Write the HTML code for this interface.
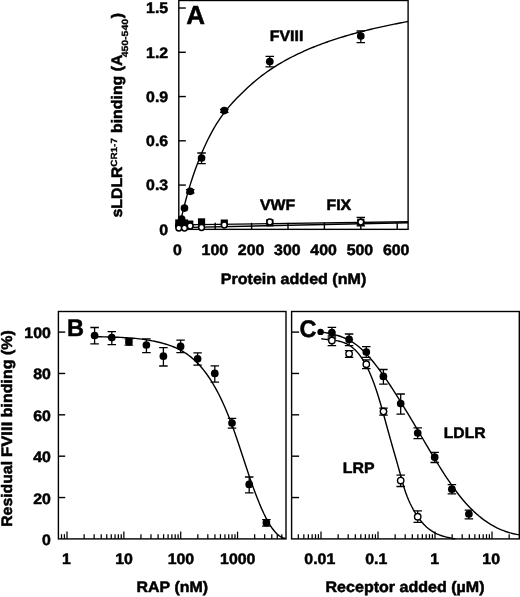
<!DOCTYPE html>
<html lang="en">
<head>
<meta charset="utf-8">
<title>Figure</title>
<style>
html,body{margin:0;padding:0;background:#fff;}
body{width:520px;height:597px;overflow:hidden;}
svg{display:block;}
svg text{text-rendering:geometricPrecision;font-family:"Liberation Sans",sans-serif;font-weight:bold;fill:#000;stroke:#000;stroke-width:0.5px;stroke-linejoin:round;}
</style>
</head>
<body>
<svg width="520" height="597" viewBox="0 0 520 597" stroke="#000" stroke-linecap="butt">
<rect x="0" y="0" width="520" height="597" fill="#fff" stroke="none"/>
<!-- Panel A -->
<rect x="178.8" y="0.5" width="229.3" height="228.85" fill="none" stroke-width="1.4"/>
<text transform="translate(168.2 234.75) scale(1.045 1)" font-size="15.2" text-anchor="end">0</text>
<line x1="178.8" y1="185.08" x2="185.8" y2="185.08" stroke-width="1.4"/>
<text transform="translate(168.2 190.48) scale(1.045 1)" font-size="15.2" text-anchor="end">0.3</text>
<line x1="178.8" y1="140.82" x2="185.8" y2="140.82" stroke-width="1.4"/>
<text transform="translate(168.2 146.22) scale(1.045 1)" font-size="15.2" text-anchor="end">0.6</text>
<line x1="178.8" y1="96.55" x2="185.8" y2="96.55" stroke-width="1.4"/>
<text transform="translate(168.2 101.95) scale(1.045 1)" font-size="15.2" text-anchor="end">0.9</text>
<line x1="178.8" y1="52.29" x2="185.8" y2="52.29" stroke-width="1.4"/>
<text transform="translate(168.2 57.69) scale(1.045 1)" font-size="15.2" text-anchor="end">1.2</text>
<line x1="178.8" y1="8.02" x2="185.8" y2="8.02" stroke-width="1.4"/>
<text transform="translate(168.2 13.42) scale(1.045 1)" font-size="15.2" text-anchor="end">1.5</text>
<text transform="translate(177.5 255.1) scale(1.045 1)" font-size="15.2" text-anchor="middle">0</text>
<line x1="215.2" y1="229.35" x2="215.2" y2="222.85" stroke-width="1.4"/>
<text transform="translate(214.8 255.1) scale(1.045 1)" font-size="15.2" text-anchor="middle">100</text>
<line x1="251.6" y1="229.35" x2="251.6" y2="222.85" stroke-width="1.4"/>
<text transform="translate(251.1 255.1) scale(1.045 1)" font-size="15.2" text-anchor="middle">200</text>
<line x1="288" y1="229.35" x2="288" y2="222.85" stroke-width="1.4"/>
<text transform="translate(287.3 255.1) scale(1.045 1)" font-size="15.2" text-anchor="middle">300</text>
<line x1="324.4" y1="229.35" x2="324.4" y2="222.85" stroke-width="1.4"/>
<text transform="translate(323.6 255.1) scale(1.045 1)" font-size="15.2" text-anchor="middle">400</text>
<line x1="360.8" y1="229.35" x2="360.8" y2="222.85" stroke-width="1.4"/>
<text transform="translate(359.9 255.1) scale(1.045 1)" font-size="15.2" text-anchor="middle">500</text>
<line x1="397.2" y1="229.35" x2="397.2" y2="222.85" stroke-width="1.4"/>
<text transform="translate(396.2 255.1) scale(1.045 1)" font-size="15.2" text-anchor="middle">600</text>
<text transform="translate(293.5 283.7) scale(1.058 1)" font-size="15.2" text-anchor="middle">Protein added (nM)</text>
<text transform="translate(122.4 217.6) rotate(-90) scale(1.045 1)" font-size="15.2">sLDLR</text>
<text transform="translate(116.9 166.8) rotate(-90) scale(1.12 1)" font-size="8.9" style="stroke-width:0.3px">CR1-7</text>
<text transform="translate(122.4 133) rotate(-90) scale(1.045 1)" font-size="15.2">binding (A</text>
<text transform="translate(127.6 57.3) rotate(-90) scale(1.16 1)" font-size="9.0" style="stroke-width:0.3px">450-540</text>
<text transform="translate(122.4 18.2) rotate(-90) scale(1.045 1)" font-size="15.2">)</text>
<text transform="translate(186.2 24.3) scale(1.0 1)" font-size="26" text-anchor="start">A</text>
<path d="M178.8 229.35 L181.12 218.84 L183.43 209.15 L185.75 200.2 L188.07 191.89 L190.38 184.16 L192.7 176.96 L195.01 170.23 L197.33 163.92 L199.65 158 L201.96 152.44 L204.28 147.19 L206.6 142.24 L208.91 137.56 L211.23 133.13 L213.55 128.93 L215.86 124.99 L218.18 121.3 L220.49 117.84 L222.81 114.6 L225.13 111.54 L227.44 108.65 L229.76 105.91 L232.08 103.28 L234.39 100.77 L236.71 98.34 L239.03 95.99 L241.34 93.69 L243.66 91.43 L245.97 89.2 L248.29 87.02 L250.61 84.91 L252.92 82.88 L255.24 80.91 L257.56 79.02 L259.87 77.19 L262.19 75.41 L264.51 73.7 L266.82 72.04 L269.14 70.43 L271.45 68.87 L273.77 67.36 L276.09 65.9 L278.4 64.47 L280.72 63.09 L283.04 61.75 L285.35 60.45 L287.67 59.18 L289.99 57.95 L292.3 56.75 L294.62 55.58 L296.93 54.45 L299.25 53.34 L301.57 52.26 L303.88 51.21 L306.2 50.19 L308.52 49.19 L310.83 48.22 L313.15 47.26 L315.47 46.34 L317.78 45.43 L320.1 44.54 L322.41 43.68 L324.73 42.83 L327.05 42.01 L329.36 41.2 L331.68 40.41 L334 39.64 L336.31 38.88 L338.63 38.14 L340.95 37.42 L343.26 36.71 L345.58 36.02 L347.89 35.34 L350.21 34.67 L352.53 34.02 L354.84 33.38 L357.16 32.75 L359.48 32.13 L361.79 31.53 L364.11 30.94 L366.43 30.36 L368.74 29.79 L371.06 29.23 L373.37 28.68 L375.69 28.14 L378.01 27.61 L380.32 27.09 L382.64 26.58 L384.96 26.08 L387.27 25.59 L389.59 25.1 L391.91 24.62 L394.22 24.16 L396.54 23.7 L398.85 23.24 L401.17 22.8 L403.49 22.36 L405.8 21.93 L408.12 21.51" stroke-width="1.4" fill="none" stroke-linejoin="round"/>
<line x1="178.8" y1="224.92" x2="408.12" y2="221.82" stroke-width="1.4"/>
<line x1="178.8" y1="227.58" x2="408.12" y2="222.71" stroke-width="1.4"/>
<rect x="175.2" y="219.4" width="7.2" height="7.2" fill="#000" stroke="none"/>
<rect x="178.04" y="219.4" width="7.2" height="7.2" fill="#000" stroke="none"/>
<rect x="180.88" y="219.4" width="7.2" height="7.2" fill="#000" stroke="none"/>
<rect x="186.12" y="220.5" width="7.2" height="7.2" fill="#000" stroke="none"/>
<rect x="197.95" y="218.3" width="7.2" height="7.2" fill="#000" stroke="none"/>
<rect x="220.7" y="219.5" width="7.2" height="7.2" fill="#000" stroke="none"/>
<rect x="266.2" y="219.2" width="7.2" height="7.2" fill="#000" stroke="none"/>
<rect x="357.2" y="218.6" width="7.2" height="7.2" fill="#000" stroke="none"/>
<path d="M190.18 189.6V193M185.93 189.6H194.43M185.93 193H194.43" stroke-width="1.3" fill="none"/>
<path d="M201.55 153V163.6M197.3 153H205.8M197.3 163.6H205.8" stroke-width="1.3" fill="none"/>
<path d="M224.3 109.4V112.4M220.05 109.4H228.55M220.05 112.4H228.55" stroke-width="1.3" fill="none"/>
<path d="M269.8 56.4V66.8M265.55 56.4H274.05M265.55 66.8H274.05" stroke-width="1.3" fill="none"/>
<path d="M360.8 31V42.6M356.55 31H365.05M356.55 42.6H365.05" stroke-width="1.3" fill="none"/>
<circle cx="178.8" cy="225.5" r="3.85" fill="#000" stroke="none"/>
<circle cx="180.22" cy="223.5" r="3.85" fill="#000" stroke="none"/>
<circle cx="181.64" cy="219" r="3.85" fill="#000" stroke="none"/>
<circle cx="184.48" cy="208.1" r="3.85" fill="#000" stroke="none"/>
<circle cx="190.18" cy="191.3" r="3.85" fill="#000" stroke="none"/>
<circle cx="201.55" cy="158" r="3.85" fill="#000" stroke="none"/>
<circle cx="224.3" cy="110.6" r="3.85" fill="#000" stroke="none"/>
<circle cx="269.8" cy="61.6" r="3.85" fill="#000" stroke="none"/>
<circle cx="360.8" cy="36" r="3.85" fill="#000" stroke="none"/>
<path d="M360.8 217.3V225.9M356.55 217.3H365.05M356.55 225.9H365.05" stroke-width="1.3" fill="none"/>
<circle cx="178.8" cy="228.1" r="2.9" fill="#fff" stroke-width="1.5"/>
<circle cx="184.48" cy="228.1" r="2.9" fill="#fff" stroke-width="1.5"/>
<circle cx="190.18" cy="226" r="2.9" fill="#fff" stroke-width="1.5"/>
<circle cx="201.55" cy="227.5" r="2.9" fill="#fff" stroke-width="1.5"/>
<circle cx="224.3" cy="225" r="2.9" fill="#fff" stroke-width="1.5"/>
<circle cx="269.8" cy="222" r="2.9" fill="#fff" stroke-width="1.5"/>
<circle cx="360.8" cy="222.1" r="2.9" fill="#fff" stroke-width="1.5"/>
<text transform="translate(260 210.3) scale(1.045 1)" font-size="15.2" text-anchor="start">VWF</text>
<text transform="translate(326.5 210.3) scale(1.045 1)" font-size="15.2" text-anchor="start">FIX</text>
<text transform="translate(269.8 40.6) scale(1.045 1)" font-size="15.2" text-anchor="start">FVIII</text>
<!-- Panel B -->
<rect x="58.4" y="311.5" width="227.6" height="227.4" fill="none" stroke-width="1.4"/>
<text transform="translate(50.8 544.9) scale(1.045 1)" font-size="15.2" text-anchor="end">0</text>
<line x1="58.4" y1="497.54" x2="65.2" y2="497.54" stroke-width="1.4"/>
<text transform="translate(50.8 503.54) scale(1.045 1)" font-size="15.2" text-anchor="end">20</text>
<line x1="58.4" y1="456.18" x2="65.2" y2="456.18" stroke-width="1.4"/>
<text transform="translate(50.8 462.18) scale(1.045 1)" font-size="15.2" text-anchor="end">40</text>
<line x1="58.4" y1="414.82" x2="65.2" y2="414.82" stroke-width="1.4"/>
<text transform="translate(50.8 420.82) scale(1.045 1)" font-size="15.2" text-anchor="end">60</text>
<line x1="58.4" y1="373.46" x2="65.2" y2="373.46" stroke-width="1.4"/>
<text transform="translate(50.8 379.46) scale(1.045 1)" font-size="15.2" text-anchor="end">80</text>
<line x1="58.4" y1="332.1" x2="65.2" y2="332.1" stroke-width="1.4"/>
<text transform="translate(50.8 338.1) scale(1.045 1)" font-size="15.2" text-anchor="end">100</text>
<line x1="61.49" y1="538.9" x2="61.49" y2="534.2" stroke-width="1.25"/>
<line x1="64.4" y1="538.9" x2="64.4" y2="534.2" stroke-width="1.25"/>
<line x1="67" y1="538.9" x2="67" y2="531.6" stroke-width="1.25"/>
<line x1="84.11" y1="538.9" x2="84.11" y2="534.2" stroke-width="1.25"/>
<line x1="94.12" y1="538.9" x2="94.12" y2="534.2" stroke-width="1.25"/>
<line x1="101.23" y1="538.9" x2="101.23" y2="534.2" stroke-width="1.25"/>
<line x1="106.74" y1="538.9" x2="106.74" y2="534.2" stroke-width="1.25"/>
<line x1="111.24" y1="538.9" x2="111.24" y2="534.2" stroke-width="1.25"/>
<line x1="115.04" y1="538.9" x2="115.04" y2="534.2" stroke-width="1.25"/>
<line x1="118.34" y1="538.9" x2="118.34" y2="534.2" stroke-width="1.25"/>
<line x1="121.25" y1="538.9" x2="121.25" y2="534.2" stroke-width="1.25"/>
<line x1="123.85" y1="538.9" x2="123.85" y2="531.6" stroke-width="1.25"/>
<line x1="140.96" y1="538.9" x2="140.96" y2="534.2" stroke-width="1.25"/>
<line x1="150.97" y1="538.9" x2="150.97" y2="534.2" stroke-width="1.25"/>
<line x1="158.08" y1="538.9" x2="158.08" y2="534.2" stroke-width="1.25"/>
<line x1="163.59" y1="538.9" x2="163.59" y2="534.2" stroke-width="1.25"/>
<line x1="168.09" y1="538.9" x2="168.09" y2="534.2" stroke-width="1.25"/>
<line x1="171.89" y1="538.9" x2="171.89" y2="534.2" stroke-width="1.25"/>
<line x1="175.19" y1="538.9" x2="175.19" y2="534.2" stroke-width="1.25"/>
<line x1="178.1" y1="538.9" x2="178.1" y2="534.2" stroke-width="1.25"/>
<line x1="180.7" y1="538.9" x2="180.7" y2="531.6" stroke-width="1.25"/>
<line x1="197.81" y1="538.9" x2="197.81" y2="534.2" stroke-width="1.25"/>
<line x1="207.82" y1="538.9" x2="207.82" y2="534.2" stroke-width="1.25"/>
<line x1="214.93" y1="538.9" x2="214.93" y2="534.2" stroke-width="1.25"/>
<line x1="220.44" y1="538.9" x2="220.44" y2="534.2" stroke-width="1.25"/>
<line x1="224.94" y1="538.9" x2="224.94" y2="534.2" stroke-width="1.25"/>
<line x1="228.74" y1="538.9" x2="228.74" y2="534.2" stroke-width="1.25"/>
<line x1="232.04" y1="538.9" x2="232.04" y2="534.2" stroke-width="1.25"/>
<line x1="234.95" y1="538.9" x2="234.95" y2="534.2" stroke-width="1.25"/>
<line x1="237.55" y1="538.9" x2="237.55" y2="531.6" stroke-width="1.25"/>
<line x1="254.66" y1="538.9" x2="254.66" y2="534.2" stroke-width="1.25"/>
<line x1="264.67" y1="538.9" x2="264.67" y2="534.2" stroke-width="1.25"/>
<line x1="271.78" y1="538.9" x2="271.78" y2="534.2" stroke-width="1.25"/>
<line x1="277.29" y1="538.9" x2="277.29" y2="534.2" stroke-width="1.25"/>
<line x1="281.79" y1="538.9" x2="281.79" y2="534.2" stroke-width="1.25"/>
<text transform="translate(66.3 564.3) scale(1.045 1)" font-size="15.2" text-anchor="middle">1</text>
<text transform="translate(124.05 564.3) scale(1.045 1)" font-size="15.2" text-anchor="middle">10</text>
<text transform="translate(180.9 564.3) scale(1.045 1)" font-size="15.2" text-anchor="middle">100</text>
<text transform="translate(237.75 564.3) scale(1.045 1)" font-size="15.2" text-anchor="middle">1000</text>
<text transform="translate(172.3 592.3) scale(1.05 1)" font-size="15.2" text-anchor="middle">RAP (nM)</text>
<text transform="translate(12.1 526.8) rotate(-90) scale(1.04 1)" font-size="15.2">Residual</text>
<text transform="translate(12.1 457.0) rotate(-90) scale(1.10 1)" font-size="15.2">FVIII</text>
<text transform="translate(12.1 417.2) rotate(-90) scale(1.052 1)" font-size="15.2">binding (%)</text>
<text transform="translate(67 336.3) scale(0.98 1)" font-size="24" text-anchor="start">B</text>
<path d="M94.5 336.55 L96.64 336.63 L98.79 336.71 L100.93 336.78 L103.08 336.84 L105.22 336.9 L107.37 336.96 L109.51 337.03 L111.66 337.09 L113.8 337.16 L115.95 337.24 L118.09 337.32 L120.24 337.41 L122.38 337.51 L124.53 337.63 L126.67 337.75 L128.82 337.89 L130.96 338.05 L133.11 338.22 L135.25 338.42 L137.4 338.63 L139.54 338.87 L141.69 339.13 L143.83 339.41 L145.98 339.73 L148.12 340.07 L150.27 340.44 L152.41 340.84 L154.56 341.28 L156.7 341.75 L158.85 342.25 L160.99 342.8 L163.14 343.38 L165.28 344 L167.43 344.67 L169.57 345.39 L171.72 346.16 L173.86 347.01 L176.01 347.93 L178.15 348.93 L180.3 350.02 L182.44 351.22 L184.59 352.52 L186.73 353.94 L188.88 355.48 L191.02 357.15 L193.17 358.96 L195.31 360.92 L197.46 363.04 L199.6 365.32 L201.75 367.77 L203.89 370.4 L206.04 373.22 L208.18 376.24 L210.33 379.46 L212.47 382.9 L214.62 386.55 L216.76 390.43 L218.91 394.54 L221.05 398.88 L223.2 403.47 L225.34 408.31 L227.49 413.4 L229.63 418.76 L231.78 424.38 L233.92 430.28 L236.07 436.42 L238.21 442.76 L240.36 449.23 L242.5 455.77 L244.65 462.32 L246.79 468.82 L248.94 475.21 L251.08 481.43 L253.23 487.46 L255.37 493.26 L257.52 498.82 L259.66 504.11 L261.81 509.1 L263.95 513.77 L266.1 518.1 L268.24 522.06 L270.39 525.64 L272.53 528.8 L274.68 531.52 L276.82 533.79 L278.97 535.61 L281.11 536.99 L283.26 537.95 L285.4 538.49" stroke-width="1.4" fill="none" stroke-linejoin="round"/>
<path d="M94.6 327.5V343.8M90.35 327.5H98.85M90.35 343.8H98.85" stroke-width="1.3" fill="none"/>
<path d="M111.8 331.6V344.6M107.55 331.6H116.05M107.55 344.6H116.05" stroke-width="1.3" fill="none"/>
<path d="M128.9 339V345.2M124.65 339H133.15M124.65 345.2H133.15" stroke-width="1.3" fill="none"/>
<path d="M146.4 338.8V352.6M142.15 338.8H150.65M142.15 352.6H150.65" stroke-width="1.3" fill="none"/>
<path d="M163.4 347.6V366M159.15 347.6H167.65M159.15 366H167.65" stroke-width="1.3" fill="none"/>
<path d="M180.6 340.2V352.6M176.35 340.2H184.85M176.35 352.6H184.85" stroke-width="1.3" fill="none"/>
<path d="M197.6 352.8V365.1M193.35 352.8H201.85M193.35 365.1H201.85" stroke-width="1.3" fill="none"/>
<path d="M214.8 365.8V382.2M210.55 365.8H219.05M210.55 382.2H219.05" stroke-width="1.3" fill="none"/>
<path d="M232 418.3V428.1M227.75 418.3H236.25M227.75 428.1H236.25" stroke-width="1.3" fill="none"/>
<path d="M249.2 477V492.8M244.95 477H253.45M244.95 492.8H253.45" stroke-width="1.3" fill="none"/>
<path d="M266.4 519.6V526.2M262.15 519.6H270.65M262.15 526.2H270.65" stroke-width="1.3" fill="none"/>
<circle cx="94.6" cy="335.5" r="3.85" fill="#000" stroke="none"/>
<circle cx="111.8" cy="337.6" r="3.85" fill="#000" stroke="none"/>
<circle cx="128.9" cy="341.9" r="3.85" fill="#000" stroke="none"/>
<circle cx="146.4" cy="345" r="3.85" fill="#000" stroke="none"/>
<circle cx="163.4" cy="356.2" r="3.85" fill="#000" stroke="none"/>
<circle cx="180.6" cy="346.4" r="3.85" fill="#000" stroke="none"/>
<circle cx="197.6" cy="358.8" r="3.85" fill="#000" stroke="none"/>
<circle cx="214.8" cy="373.4" r="3.85" fill="#000" stroke="none"/>
<circle cx="232" cy="423" r="3.85" fill="#000" stroke="none"/>
<circle cx="249.2" cy="484.4" r="3.85" fill="#000" stroke="none"/>
<circle cx="266.4" cy="522.7" r="3.85" fill="#000" stroke="none"/>
<!-- Panel C -->
<rect x="291.6" y="311.5" width="227.7" height="227.4" fill="none" stroke-width="1.4"/>
<line x1="291.6" y1="497.54" x2="299.1" y2="497.54" stroke-width="1.4"/>
<line x1="291.6" y1="456.18" x2="299.1" y2="456.18" stroke-width="1.4"/>
<line x1="291.6" y1="414.82" x2="299.1" y2="414.82" stroke-width="1.4"/>
<line x1="291.6" y1="373.46" x2="299.1" y2="373.46" stroke-width="1.4"/>
<line x1="291.6" y1="332.1" x2="299.1" y2="332.1" stroke-width="1.4"/>
<line x1="298.32" y1="538.9" x2="298.32" y2="534.2" stroke-width="1.25"/>
<line x1="303.84" y1="538.9" x2="303.84" y2="534.2" stroke-width="1.25"/>
<line x1="308.35" y1="538.9" x2="308.35" y2="534.2" stroke-width="1.25"/>
<line x1="312.17" y1="538.9" x2="312.17" y2="534.2" stroke-width="1.25"/>
<line x1="315.48" y1="538.9" x2="315.48" y2="534.2" stroke-width="1.25"/>
<line x1="318.39" y1="538.9" x2="318.39" y2="534.2" stroke-width="1.25"/>
<line x1="321" y1="538.9" x2="321" y2="531.6" stroke-width="1.25"/>
<line x1="338.16" y1="538.9" x2="338.16" y2="534.2" stroke-width="1.25"/>
<line x1="348.2" y1="538.9" x2="348.2" y2="534.2" stroke-width="1.25"/>
<line x1="355.32" y1="538.9" x2="355.32" y2="534.2" stroke-width="1.25"/>
<line x1="360.84" y1="538.9" x2="360.84" y2="534.2" stroke-width="1.25"/>
<line x1="365.35" y1="538.9" x2="365.35" y2="534.2" stroke-width="1.25"/>
<line x1="369.17" y1="538.9" x2="369.17" y2="534.2" stroke-width="1.25"/>
<line x1="372.48" y1="538.9" x2="372.48" y2="534.2" stroke-width="1.25"/>
<line x1="375.39" y1="538.9" x2="375.39" y2="534.2" stroke-width="1.25"/>
<line x1="378" y1="538.9" x2="378" y2="531.6" stroke-width="1.25"/>
<line x1="395.16" y1="538.9" x2="395.16" y2="534.2" stroke-width="1.25"/>
<line x1="405.2" y1="538.9" x2="405.2" y2="534.2" stroke-width="1.25"/>
<line x1="412.32" y1="538.9" x2="412.32" y2="534.2" stroke-width="1.25"/>
<line x1="417.84" y1="538.9" x2="417.84" y2="534.2" stroke-width="1.25"/>
<line x1="422.35" y1="538.9" x2="422.35" y2="534.2" stroke-width="1.25"/>
<line x1="426.17" y1="538.9" x2="426.17" y2="534.2" stroke-width="1.25"/>
<line x1="429.48" y1="538.9" x2="429.48" y2="534.2" stroke-width="1.25"/>
<line x1="432.39" y1="538.9" x2="432.39" y2="534.2" stroke-width="1.25"/>
<line x1="435" y1="538.9" x2="435" y2="531.6" stroke-width="1.25"/>
<line x1="452.16" y1="538.9" x2="452.16" y2="534.2" stroke-width="1.25"/>
<line x1="462.2" y1="538.9" x2="462.2" y2="534.2" stroke-width="1.25"/>
<line x1="469.32" y1="538.9" x2="469.32" y2="534.2" stroke-width="1.25"/>
<line x1="474.84" y1="538.9" x2="474.84" y2="534.2" stroke-width="1.25"/>
<line x1="479.35" y1="538.9" x2="479.35" y2="534.2" stroke-width="1.25"/>
<line x1="483.17" y1="538.9" x2="483.17" y2="534.2" stroke-width="1.25"/>
<line x1="486.48" y1="538.9" x2="486.48" y2="534.2" stroke-width="1.25"/>
<line x1="489.39" y1="538.9" x2="489.39" y2="534.2" stroke-width="1.25"/>
<line x1="492" y1="538.9" x2="492" y2="531.6" stroke-width="1.25"/>
<line x1="509.16" y1="538.9" x2="509.16" y2="534.2" stroke-width="1.25"/>
<text transform="translate(319.8 564.3) scale(1.045 1)" font-size="15.2" text-anchor="middle">0.01</text>
<text transform="translate(376.3 564.3) scale(1.045 1)" font-size="15.2" text-anchor="middle">0.1</text>
<text transform="translate(434.6 564.3) scale(1.045 1)" font-size="15.2" text-anchor="middle">1</text>
<text transform="translate(491.2 564.3) scale(1.045 1)" font-size="15.2" text-anchor="middle">10</text>
<text transform="translate(405 592.4) scale(1.056 1)" font-size="15.2" text-anchor="middle">Receptor added (µM)</text>
<text transform="translate(299.5 336.8) scale(0.98 1)" font-size="24" text-anchor="start">C</text>
<path d="M320.6 331.75 L322.83 332.17 L325.06 332.59 L327.29 333.02 L329.53 333.48 L331.76 333.97 L333.99 334.51 L336.22 335.11 L338.45 335.77 L340.68 336.51 L342.91 337.34 L345.15 338.27 L347.38 339.31 L349.61 340.47 L351.84 341.76 L354.07 343.2 L356.3 344.79 L358.53 346.55 L360.77 348.47 L363 350.54 L365.23 352.77 L367.46 355.13 L369.69 357.63 L371.92 360.25 L374.16 362.99 L376.39 365.84 L378.62 368.79 L380.85 371.83 L383.08 374.95 L385.31 378.16 L387.54 381.43 L389.78 384.76 L392.01 388.16 L394.24 391.61 L396.47 395.11 L398.7 398.65 L400.93 402.24 L403.16 405.87 L405.4 409.53 L407.63 413.22 L409.86 416.93 L412.09 420.67 L414.32 424.42 L416.55 428.18 L418.78 431.96 L421.02 435.74 L423.25 439.51 L425.48 443.29 L427.71 447.05 L429.94 450.8 L432.17 454.53 L434.4 458.22 L436.64 461.88 L438.87 465.5 L441.1 469.07 L443.33 472.58 L445.56 476.02 L447.79 479.4 L450.02 482.69 L452.26 485.9 L454.49 489.02 L456.72 492.04 L458.95 494.96 L461.18 497.75 L463.41 500.44 L465.64 503 L467.88 505.45 L470.11 507.79 L472.34 510.02 L474.57 512.14 L476.8 514.15 L479.03 516.06 L481.27 517.86 L483.5 519.57 L485.73 521.17 L487.96 522.68 L490.19 524.1 L492.42 525.42 L494.65 526.65 L496.89 527.8 L499.12 528.85 L501.35 529.83 L503.58 530.71 L505.81 531.52 L508.04 532.25 L510.27 532.91 L512.51 533.49 L514.74 534 L516.97 534.43 L519.2 534.8" stroke-width="1.4" fill="none" stroke-linejoin="round"/>
<path d="M321.25 338.66 L322.76 338.94 L324.26 339.17 L325.77 339.37 L327.28 339.54 L328.79 339.71 L330.29 339.87 L331.8 340.04 L333.31 340.22 L334.82 340.42 L336.32 340.65 L337.83 340.93 L339.34 341.26 L340.84 341.64 L342.35 342.09 L343.86 342.63 L345.37 343.24 L346.87 343.96 L348.38 344.77 L349.89 345.7 L351.4 346.75 L352.9 347.94 L354.41 349.26 L355.92 350.74 L357.43 352.37 L358.93 354.17 L360.44 356.15 L361.95 358.31 L363.45 360.67 L364.96 363.23 L366.47 366 L367.98 369 L369.48 372.23 L370.99 375.7 L372.5 379.43 L374.01 383.41 L375.51 387.67 L377.02 392.2 L378.53 397 L380.03 402.03 L381.54 407.23 L383.05 412.57 L384.56 418.01 L386.06 423.51 L387.57 429.02 L389.08 434.49 L390.59 439.9 L392.09 445.22 L393.6 450.47 L395.11 455.71 L396.62 460.98 L398.12 466.32 L399.63 471.79 L401.14 477.33 L402.64 482.76 L404.15 487.85 L405.66 492.43 L407.17 496.52 L408.67 500.19 L410.18 503.5 L411.69 506.53 L413.2 509.34 L414.7 511.97 L416.21 514.42 L417.72 516.69 L419.22 518.81 L420.73 520.76 L422.24 522.57 L423.75 524.24 L425.25 525.77 L426.76 527.17 L428.27 528.45 L429.78 529.62 L431.28 530.68 L432.79 531.65 L434.3 532.52 L435.81 533.31 L437.31 534.02 L438.82 534.66 L440.33 535.24 L441.83 535.76 L443.34 536.23 L444.85 536.66 L446.36 537.06 L447.86 537.43 L449.37 537.78 L450.88 538.11 L452.39 538.45 L453.89 538.78 L455.4 538.9" stroke-width="1.4" fill="none" stroke-linejoin="round"/>
<path d="M331.9 327.4V338M327.65 327.4H336.15M327.65 338H336.15" stroke-width="1.3" fill="none"/>
<path d="M349.1 334V345.6M344.85 334H353.35M344.85 345.6H353.35" stroke-width="1.3" fill="none"/>
<path d="M366.3 346.7V357.4M362.05 346.7H370.55M362.05 357.4H370.55" stroke-width="1.3" fill="none"/>
<path d="M383.4 369.5V384.1M379.15 369.5H387.65M379.15 384.1H387.65" stroke-width="1.3" fill="none"/>
<path d="M400.7 394V414.1M396.45 394H404.95M396.45 414.1H404.95" stroke-width="1.3" fill="none"/>
<path d="M417.7 427.8V438.7M413.45 427.8H421.95M413.45 438.7H421.95" stroke-width="1.3" fill="none"/>
<path d="M434.7 452.4V462.5M430.45 452.4H438.95M430.45 462.5H438.95" stroke-width="1.3" fill="none"/>
<path d="M451.9 484.7V493.8M447.65 484.7H456.15M447.65 493.8H456.15" stroke-width="1.3" fill="none"/>
<path d="M468.9 510.2V518.9M464.65 510.2H473.15M464.65 518.9H473.15" stroke-width="1.3" fill="none"/>
<circle cx="320.6" cy="331.9" r="3.2" fill="#000" stroke="none"/>
<circle cx="331.9" cy="332.6" r="3.85" fill="#000" stroke="none"/>
<circle cx="349.1" cy="339.4" r="3.85" fill="#000" stroke="none"/>
<circle cx="366.3" cy="352" r="3.85" fill="#000" stroke="none"/>
<circle cx="383.4" cy="376.4" r="3.85" fill="#000" stroke="none"/>
<circle cx="400.7" cy="403.6" r="3.85" fill="#000" stroke="none"/>
<circle cx="417.7" cy="433.1" r="3.85" fill="#000" stroke="none"/>
<circle cx="434.7" cy="457.2" r="3.85" fill="#000" stroke="none"/>
<circle cx="451.9" cy="489.2" r="3.85" fill="#000" stroke="none"/>
<circle cx="468.9" cy="514" r="3.85" fill="#000" stroke="none"/>
<path d="M331.9 336V345.6M327.65 336H336.15M327.65 345.6H336.15" stroke-width="1.3" fill="none"/>
<path d="M349.1 350.7V357.3M344.85 350.7H353.35M344.85 357.3H353.35" stroke-width="1.3" fill="none"/>
<path d="M366.3 359.8V368.7M362.05 359.8H370.55M362.05 368.7H370.55" stroke-width="1.3" fill="none"/>
<path d="M383.5 408.2V415.2M379.25 408.2H387.75M379.25 415.2H387.75" stroke-width="1.3" fill="none"/>
<path d="M400.7 475.2V486.5M396.45 475.2H404.95M396.45 486.5H404.95" stroke-width="1.3" fill="none"/>
<path d="M417.7 510.8V522.4M413.45 510.8H421.95M413.45 522.4H421.95" stroke-width="1.3" fill="none"/>
<circle cx="331.9" cy="340.6" r="3.2" fill="#fff" stroke-width="1.4"/>
<circle cx="349.1" cy="353.8" r="3.2" fill="#fff" stroke-width="1.4"/>
<circle cx="366.3" cy="364.2" r="3.2" fill="#fff" stroke-width="1.4"/>
<circle cx="383.5" cy="411.5" r="3.2" fill="#fff" stroke-width="1.4"/>
<circle cx="400.7" cy="480.6" r="3.2" fill="#fff" stroke-width="1.4"/>
<circle cx="417.7" cy="516.7" r="3.2" fill="#fff" stroke-width="1.4"/>
<text transform="translate(443.8 437.8) scale(1.03 1)" font-size="15.2" text-anchor="start">LDLR</text>
<text transform="translate(342.8 473.3) scale(1.045 1)" font-size="15.2" text-anchor="start">LRP</text>
</svg>
</body>
</html>
